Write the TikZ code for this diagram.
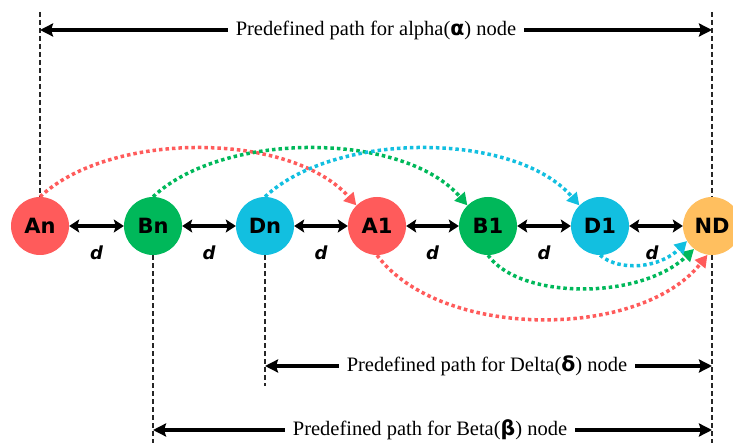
\documentclass[tikz,border=0pt]{standalone}
\usepackage{fontspec}
\setmainfont{Liberation Serif}
\newfontfamily\djv{DejaVu Sans}
\usetikzlibrary{arrows.meta}
\definecolor{cred}{HTML}{FF5B5B}
\definecolor{cgreen}{HTML}{00B85A}
\definecolor{ccyan}{HTML}{12BFE0}
\definecolor{corange}{HTML}{FFBF5F}
\tikzset{
  ball/.style={circle,fill=#1,minimum size=58pt,inner sep=0pt,font=\djv\bfseries\fontsize{21}{21}\selectfont},
  link/.style={line width=3.6pt,{Stealth[length=10pt,width=13pt,inset=2pt]}-{Stealth[length=10pt,width=13pt,inset=2pt]}},
  dlab/.style={font=\djv\bfseries\itshape\fontsize{18}{18}\selectfont},
  guide/.style={line width=1.4pt,black!85,dash pattern=on 5pt off 3pt},
  span/.style={line width=4pt,{Stealth[length=13pt,width=13pt,inset=2pt]}-{Stealth[length=13pt,width=13pt,inset=2pt]}},
  plab/.style={fill=white,inner sep=8pt,font=\fontsize{20.5}{20.5}\selectfont},
  hop/.style={#1,line width=3.5pt,dash pattern=on 3.5pt off 3pt,-{Triangle[length=12pt,width=13pt]}},
}
\newcommand{\gk}[1]{{\djv\bfseries #1}}
\begin{document}
\begin{tikzpicture}[x=1pt,y=-1pt]
\useasboundingbox (0,0) rectangle (733,443);
% nodes
\node[ball=cred] (An) at (40,226) {An};
\node[ball=cgreen] (Bn) at (153,226) {Bn};
\node[ball=ccyan] (Dn) at (265,226) {Dn};
\node[ball=cred] (A1) at (377,226) {A1};
\node[ball=cgreen] (B1) at (488,226) {B1};
\node[ball=ccyan] (D1) at (600,226) {D1};
\node[ball=corange] (ND) at (712,226) {ND};
% links
\draw[link] (An) -- (Bn);
\draw[link] (Bn) -- (Dn);
\draw[link] (Dn) -- (A1);
\draw[link] (A1) -- (B1);
\draw[link] (B1) -- (D1);
\draw[link] (D1) -- (ND);
\node[dlab] (d1) at (96.5,253) {d};
\node[dlab] (d2) at (209,253) {d};
\node[dlab] (d3) at (321,253) {d};
\node[dlab] (d4) at (432.5,253) {d};
\node[dlab] (d5) at (544,253) {d};
\node[dlab] (d6) at (652,253) {d};
% guide lines
\coordinate (aT) at (40,12);
\coordinate (nT) at (712,12);
\coordinate (nB) at (712,443);
\coordinate (bB) at (153,443);
\coordinate (dB) at (265,386);
\draw[guide] (aT) -- (An.north);
\draw[guide] (nT) -- (ND.north);
\draw[guide] (ND.south) -- (nB);
\draw[guide] (Bn.south) -- (bB);
\draw[guide] (Dn.south) -- (dB);
% spans
\coordinate (sa1) at (40,30);
\coordinate (sa2) at (712,30);
\draw[span] (sa1) -- (sa2);
\node[plab] (ta) at (376,30) {Predefined path for alpha(\gk{α}) node};
\coordinate (sd1) at (265,366);
\coordinate (sd2) at (712,366);
\draw[span] (sd1) -- (sd2);
\node[plab] (td) at (487,366) {Predefined path for Delta(\gk{δ}) node};
\coordinate (sb1) at (153,430);
\coordinate (sb2) at (712,430);
\draw[span] (sb1) -- (sb2);
\node[plab] (tb) at (430,430) {Predefined path for Beta(\gk{β}) node};
% hops over the top
\draw[hop=cred] (An.north) .. controls (110,131) and (290,131) .. (A1.135);
\draw[hop=cgreen] (Bn.north) .. controls (223,131) and (403,131) .. (B1.135);
\draw[hop=ccyan] (Dn.north) .. controls (335,131) and (515,131) .. (D1.135);
% hops below
\draw[hop=cred] (A1.south) .. controls (440,340) and (640,340) .. (ND.261);
\draw[hop=cgreen] (B1.south) .. controls (520,300) and (640,300) .. (ND.232);
\draw[hop=ccyan] (D1.south) .. controls (620,272) and (660,268) .. (ND.211);
\end{tikzpicture}
\end{document}
